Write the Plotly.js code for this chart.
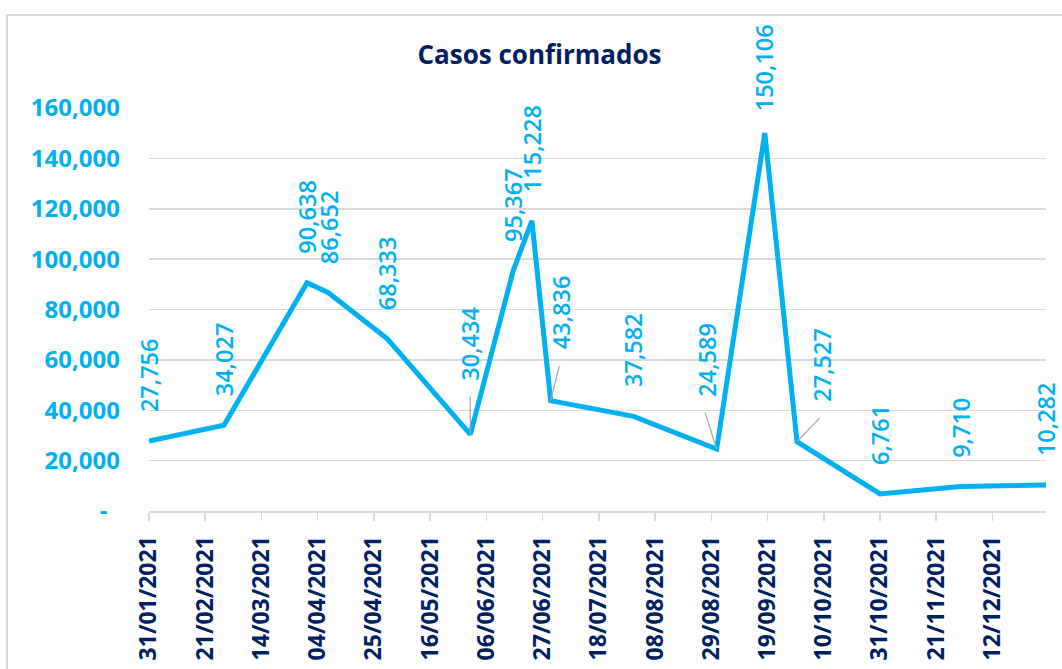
<!DOCTYPE html>
<html>
<head>
<meta charset="utf-8">
<script src="https://cdn.plot.ly/plotly-3.0.1.min.js"></script>
<style>
  html, body { margin: 0; padding: 0; background: #ffffff; }
  #frame { position: absolute; left: 6px; top: 14px; width: 1100px; height: 700px; border: 2px solid #d9d9d9; box-sizing: border-box; }
  #chart { position: absolute; left: 0; top: 0; width: 1062px; height: 669px; }
</style>
</head>
<body>
<div id="frame"></div>
<div id="chart"></div>
<script>
// ---- data ----
const dates = ['2021-01-31','2021-02-28','2021-03-31','2021-04-08','2021-04-30','2021-05-31',
               '2021-06-16','2021-06-23','2021-06-30','2021-07-31','2021-08-31','2021-09-18',
               '2021-09-30','2021-10-31','2021-11-30','2022-01-01'];
const casos = [27756, 34027, 90638, 86652, 68333, 30434,
               95367, 115228, 43836, 37582, 24589, 150106,
               27527, 6761, 9710, 10282];
const yTickVals = [0, 20000, 40000, 60000, 80000, 100000, 120000, 140000, 160000];
const yTickText = ['-\u00a0\u00a0', '20,000', '40,000', '60,000', '80,000', '100,000', '120,000', '140,000', '160,000'];
const chartTitle = 'Casos confirmados';

// ---- label placement (pixel offsets, style only) ----
const labelShift = { 5: {dx: 0, dy: 52}, 8: {dx: 10, dy: 49}, 10: {dx: -10, dy: 50}, 12: {dx: 25, dy: 38}, 11: {dx: 0, dy: 20} };
const leaders = { 5: {ax: 0, ay: -39}, 8: {ax: 9, ay: -36}, 10: {ax: -12, ay: -38}, 12: {ax: 24, ay: -25} };

const cyan = '#00B0F0';
const navy = '#002060';
const fontFam = '"Open Sans", "Noto Sans", sans-serif';

const fmt = v => v.toLocaleString('en-US');

const annotations = [];
dates.forEach((d, i) => {
  const s = labelShift[i] || {dx: 0, dy: 27};
  annotations.push({
    x: d, y: casos[i], xref: 'x', yref: 'y',
    text: fmt(casos[i]), showarrow: false, textangle: -90,
    xanchor: 'center', yanchor: 'bottom',
    xshift: s.dx, yshift: s.dy,
    font: {family: fontFam, size: 23.5, color: cyan, weight: 600}
  });
  if (leaders[i]) {
    annotations.push({
      x: d, y: casos[i], xref: 'x', yref: 'y',
      text: '', showarrow: true, arrowhead: 0, arrowwidth: 1.2, arrowcolor: '#a6a6a6',
      axref: 'pixel', ayref: 'pixel', ax: leaders[i].ax, ay: leaders[i].ay, standoff: 0
    });
  }
});

const trace = {
  x: dates, y: casos, type: 'scatter', mode: 'lines',
  line: {color: cyan, width: 5},
  hoverinfo: 'skip'
};

const layout = {
  width: 1062, height: 669,
  margin: {l: 149, r: 16, t: 108, b: 158},
  paper_bgcolor: 'rgba(0,0,0,0)', plot_bgcolor: 'rgba(0,0,0,0)',
  showlegend: false,
  title: {text: '<b>' + chartTitle + '</b>', x: 0.508, xanchor: 'center', y: 0.918, yanchor: 'middle',
          font: {family: fontFam, size: 26, color: navy}},
  xaxis: {
    type: 'date',
    range: ['2021-01-31', '2022-01-01'],
    tick0: '2021-01-31', dtick: 21 * 86400000,
    tickformat: '%d/%m/%Y', tickangle: -90,
    ticks: 'outside', ticklen: 8, tickwidth: 1.5, tickcolor: '#d9d9d9',
    showline: true, linecolor: '#d9d9d9', linewidth: 2,
    showgrid: false, zeroline: false,
    ticklabelstandoff: 6,
    tickfont: {family: fontFam, size: 23, color: navy, weight: 'bold'}
  },
  yaxis: {
    range: [0, 160000],
    tickvals: yTickVals, ticktext: yTickText,
    showgrid: true, gridcolor: '#d9d9d9', gridwidth: 1.5,
    zeroline: false, showline: false, ticks: '',
    ticklabelstandoff: 28,
    tickfont: {family: fontFam, size: 24, color: cyan, weight: 'bold'}
  },
  annotations: annotations
};

Plotly.newPlot('chart', [trace], layout, {displayModeBar: false, staticPlot: true});
</script>
</body>
</html>
